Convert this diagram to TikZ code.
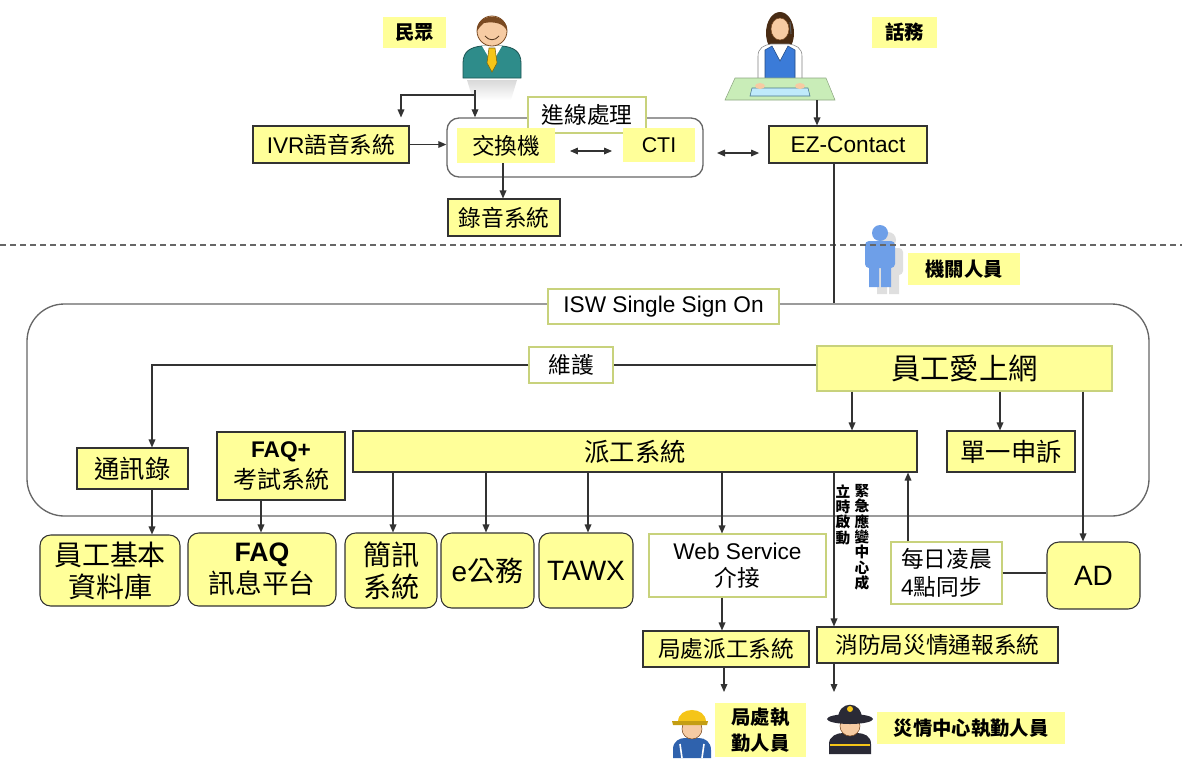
\documentclass[tikz,border=0pt]{standalone}
\usepackage{fontspec}
\setmainfont{Liberation Sans}
\newfontfamily\cjk{Noto Sans CJK TC}
\usetikzlibrary{arrows.meta}

\definecolor{boxyel}{HTML}{FFFF99}
\definecolor{boxline}{HTML}{333333}
\definecolor{lightline}{HTML}{C8D27C}
\definecolor{frameline}{HTML}{666666}
\definecolor{suit}{HTML}{2E8C8A}
\definecolor{skin}{HTML}{F6CBA3}
\definecolor{hair}{HTML}{7A4A22}
\definecolor{vest}{HTML}{3B7BD8}
\definecolor{desk}{HTML}{C9EDB8}
\definecolor{staff}{HTML}{6E9FE8}
\definecolor{helmet}{HTML}{F5C518}
\definecolor{navy}{HTML}{2A2A36}

\tikzset{
  every node/.style={inner sep=0pt, align=center},
  sz/.style 2 args={minimum width=#1*0.75pt, minimum height=#2*0.75pt},
  f/.style 2 args={font=\fontsize{#1}{#2}\selectfont},
  ybox/.style={draw=boxline, fill=boxyel, line width=0.8pt},
  lbox/.style={draw=lightline, fill=boxyel, line width=0.8pt},
  wbox/.style={draw=lightline, fill=white, line width=0.8pt},
  rbox/.style={ybox, rounded corners=8pt},
  yfill/.style={fill=boxyel},
  tag/.style={fill=boxyel, font=\fontsize{14.5}{19}\selectfont\cjk\bfseries},
  frame/.style={draw=frameline, line width=1pt},
  line/.style={draw=boxline, line width=0.9pt},
  arr/.style={line, -{Triangle[length=6pt,width=5pt]}},
  dbl/.style={line, {Triangle[length=6pt,width=5pt]}-{Triangle[length=6pt,width=5pt]}},
}

\begin{document}
\begin{tikzpicture}[x=0.75pt, y=-0.75pt]
\useasboundingbox (0,0) rectangle (1182,758);

% citizen
\shade[top color=gray!30, bottom color=white] (467,80) -- (517,80) -- (511,100) -- (473,100) -- cycle;
\filldraw[fill=suit, draw=suit!60!black, line width=0.6pt] (463,78) -- (463,63) .. controls (463,51) and (471,47) .. (482,46) -- (502,46) .. controls (513,47) and (521,51) .. (521,63) -- (521,78) -- cycle;
\fill[white] (482,46) -- (502,46) -- (492,63) -- cycle;
\filldraw[fill=helmet, draw=helmet!50!black, line width=0.4pt] (489,48) -- (495,48) -- (497,63) -- (492,72) -- (487,63) -- cycle;
\filldraw[fill=skin, draw=hair, line width=0.6pt] (492,31) circle (15);
\fill[hair] (477,31) .. controls (476,12) and (508,12) .. (507,31) .. controls (504,24) and (496,21) .. (484,23) .. controls (481,25) and (479,28) .. (477,31);
\draw[hair!60!black, line width=0.6pt] (485,36) .. controls (489,41) and (495,41) .. (499,36);

% operator
\fill[hair!60!black] (780,33) ellipse (14 and 21);
\filldraw[fill=white, draw=gray, line width=0.4pt] (758,86) -- (758,56) .. controls (758,48) and (764,45) .. (771,44) -- (789,44) .. controls (796,45) and (802,48) .. (802,56) -- (802,86) -- cycle;
\filldraw[fill=vest, draw=vest!60!black, line width=0.4pt] (765,50) -- (772,46) -- (780,61) -- (788,46) -- (795,50) -- (795,84) -- (765,84) -- cycle;
\filldraw[fill=skin, draw=hair, line width=0.4pt] (780,29) ellipse (9 and 11);
\draw[gray!70!black, line width=0.8pt] (790,22) -- (791,34);
\filldraw[fill=desk, draw=desk!70!black, line width=0.4pt] (735,78) -- (826,78) -- (835,100) -- (725,100) -- cycle;
\filldraw[fill=cyan!25, draw=cyan!50!black, line width=0.4pt] (752,88) -- (808,88) -- (810,96) -- (750,96) -- cycle;
\fill[skin] (760,86) ellipse (5 and 3) (800,86) ellipse (5 and 3);

% staff
\begin{scope}[shift={(8,7)}, gray!25]
  \fill (880,233) circle (8);
  \fill[rounded corners=3pt] (865,241) rectangle (895,268);
  \fill (869,266) rectangle (879,287) (881,266) rectangle (891,287);
\end{scope}
\begin{scope}[staff]
  \fill (880,233) circle (8);
  \fill[rounded corners=3pt] (865,241) rectangle (895,268);
  \fill (869,266) rectangle (879,287) (881,266) rectangle (891,287);
\end{scope}

% field worker
\fill[vest!80!black] (673,758) -- (673,749) .. controls (673,741) and (680,738) .. (685,738) -- (699,738) .. controls (705,738) and (711,742) .. (711,750) -- (711,758) -- cycle;
\draw[white, line width=1.2pt] (680,744) -- (682,758) (704,744) -- (702,758);
\filldraw[fill=skin, draw=hair, line width=0.4pt] (692,729) ellipse (10 and 10);
\fill[helmet] (678,722) .. controls (678,706) and (706,706) .. (706,722) -- cycle;
\fill[helmet!80!black] (672,721) -- (708,721) -- (707,725) -- (673,725) -- cycle;

% fire crew
\fill[navy] (829,754) -- (829,744) .. controls (829,736) and (837,733) .. (843,733) -- (857,733) .. controls (864,733) and (871,736) .. (871,744) -- (871,754) -- cycle;
\draw[helmet, line width=1.4pt] (830,745) -- (870,745);
\filldraw[fill=skin, draw=hair, line width=0.4pt] (850,726) ellipse (10 and 10);
\fill[navy] (850,719) ellipse (23 and 5);
\fill[navy] (838,719) .. controls (838,700) and (862,700) .. (862,719) -- cycle;
\fill[helmet] (850,709) circle (3);

% separator
\draw[frameline, line width=0.8pt, dash pattern=on 4.5pt off 3pt] (0,245) -- (1182,245);

% frames
\node[frame, rounded corners=9pt, sz={256}{59}] (sw) at (575,147.5) {};
\node[frame, rounded corners=28pt, sz={1122}{212}] (isw) at (588,410) {};

% call centre side
\node[tag, sz={63}{31}] (publ) at (414.5,32.5) {民眾};
\node[tag, sz={65}{31}] (opl) at (904.5,32.5) {話務};
\node[ybox, sz={156}{37}, f={17}{20}] (ivr) at (331,144.5) {IVR{\cjk 語音系統}};
\node[wbox, sz={118}{36}, f={17}{20}] (inl) at (587,115) {\cjk 進線處理};
\node[yfill, sz={98}{35}, f={17}{20}] (sx) at (506,145.5) {\cjk 交換機};
\node[yfill, sz={72}{34}, f={16}{20}] (cti) at (659,145) {CTI};
\node[ybox, sz={112}{37}, f={17}{20}] (rec) at (504,217.5) {\cjk 錄音系統};
\node[ybox, sz={158}{37}, f={17}{20}] (ez) at (848,144.5) {EZ-Contact};
\node[tag, sz={112}{32}] (stfl) at (964,269) {機關人員};

% single sign on
\node[wbox, sz={231}{35}, f={17}{20}] (sso) at (663.5,306.5) {ISW Single Sign On};
\node[wbox, sz={84}{36}, f={17}{20}] (mnt) at (571,365) {\cjk 維護};
\node[lbox, sz={295}{45}, f={22}{26}] (web) at (964.5,368.5) {\cjk 員工愛上網};
\node[ybox, sz={111}{41}, f={19}{22}] (tel) at (132.5,468.5) {\cjk 通訊錄};
\node[ybox, sz={128}{68}, f={17}{23}] (faqx) at (281,466) {\textbf{FAQ+}\\{\fontsize{18}{22}\selectfont\cjk 考試系統}};
\node[ybox, sz={564}{41}, f={19}{22}] (disp) at (635,451.5) {\cjk 派工系統};
\node[ybox, sz={128}{41}, f={19}{22}] (cmp) at (1011,451.5) {\cjk 單一申訴};

% back-end systems
\node[rbox, sz={140}{71}, f={21}{24}] (empdb) at (110,570.5) {\cjk 員工基本\\\cjk 資料庫};
\node[rbox, sz={148}{73}, f={20}{24}] (faq) at (262,569.5) {\textbf{FAQ}\\{\cjk 訊息平台}};
\node[rbox, sz={92}{75}, f={21}{24}] (sms) at (391,570.5) {\cjk 簡訊\\\cjk 系統};
\node[rbox, sz={93}{75}, f={21}{24}] (egov) at (487.5,570.5) {e{\cjk 公務}};
\node[rbox, sz={94}{75}, f={21}{24}] (tawx) at (586,570.5) {TAWX};
\node[wbox, sz={177}{63}, f={17}{20}] (wsv) at (737.5,565.5) {Web Service\\{\cjk 介接}};
\node[wbox, sz={111}{62}, f={17}{21}, align=left] (sync) at (946.5,573) {{\cjk 每日凌晨}\\4{\cjk 點同步}};
\node[rbox, rounded corners=9pt, sz={93}{67}, f={21}{24}] (ad) at (1093.5,575.5) {AD};
\node[ybox, sz={166}{36}, f={17}{20}] (ldisp) at (726,649) {\cjk 局處派工系統};
\node[ybox, sz={241}{36}, f={17}{20}] (fire) at (937.5,645) {\cjk 消防局災情通報系統};
\node[tag, sz={91}{54}] (ldl) at (760.5,730) {局處執\\勤人員};
\node[tag, sz={188}{32}] (firel) at (971,728) {災情中心執勤人員};
\node[anchor=north, font=\fontsize{11}{11.5}\selectfont\cjk\bfseries] (emgr) at (862,484) {緊\\急\\應\\變\\中\\心\\成};
\node[anchor=north, font=\fontsize{11}{11.5}\selectfont\cjk\bfseries] (emgl) at (843,484) {立\\時\\啟\\動};

% connectors, call centre
\coordinate (pub) at (475,90);
\coordinate (op) at (817,100);
\coordinate (ezl) at (834,163);
\draw[arr] (pub) -- (pub |- sw.north);
\draw[arr, shorten >=6pt] (475,95) -| (ivr.north -| 401,0);
\draw[arr] (ivr.east) -- (ivr.east -| sw.west);
\draw[dbl, shorten <=11pt, shorten >=8pt] (sx.east |- 0,151) -- (cti.west |- 0,151);
\draw[dbl, shorten <=10pt, shorten >=7pt] (sw.east |- 0,153) -- (ez.west |- 0,153);
\draw[arr] (op) -- (op |- ez.north);
\draw[arr] (sx.south -| 503,0) -- (rec.north -| 503,0);
\draw[line] (ezl) -- (ezl |- isw.north);

% connectors, sign on
\draw[line] (web.west |- mnt.east) -- (mnt.east);
\draw[arr] (mnt.west) -| (tel.north -| 152,0);
\draw[arr] (tel.south -| 152,0) -- (empdb.north -| 152,0);
\draw[arr] (faqx.south -| 261,0) -- (faq.north -| 261,0);
\draw[arr] (web.south -| 852,0) -- (disp.north -| 852,0);
\draw[arr] (web.south -| 1000,0) -- (cmp.north -| 1000,0);
\draw[arr] (web.south -| 1083,0) -- (ad.north -| 1083,0);
\draw[arr] (disp.south -| 393,0) -- (sms.north -| 393,0);
\draw[arr] (disp.south -| 486,0) -- (egov.north -| 486,0);
\draw[arr] (disp.south -| 588,0) -- (tawx.north -| 588,0);
\draw[arr] (disp.south -| 722,0) -- (wsv.north -| 722,0);
\draw[arr] (disp.south -| 834,0) -- (fire.north -| 834,0);
\draw[arr] (sync.north -| 908,0) -- (disp.south -| 908,0);
\draw[line] (sync.east) -- (sync.east -| ad.west);
\draw[arr] (wsv.south -| 722,0) -- (ldisp.north -| 722,0);

% to duty staff
\coordinate (ldp) at (724,692);
\coordinate (frp) at (834,692);
\draw[arr] (ldisp.south -| ldp) -- (ldp);
\draw[arr] (fire.south -| frp) -- (frp);
\end{tikzpicture}
\end{document}
